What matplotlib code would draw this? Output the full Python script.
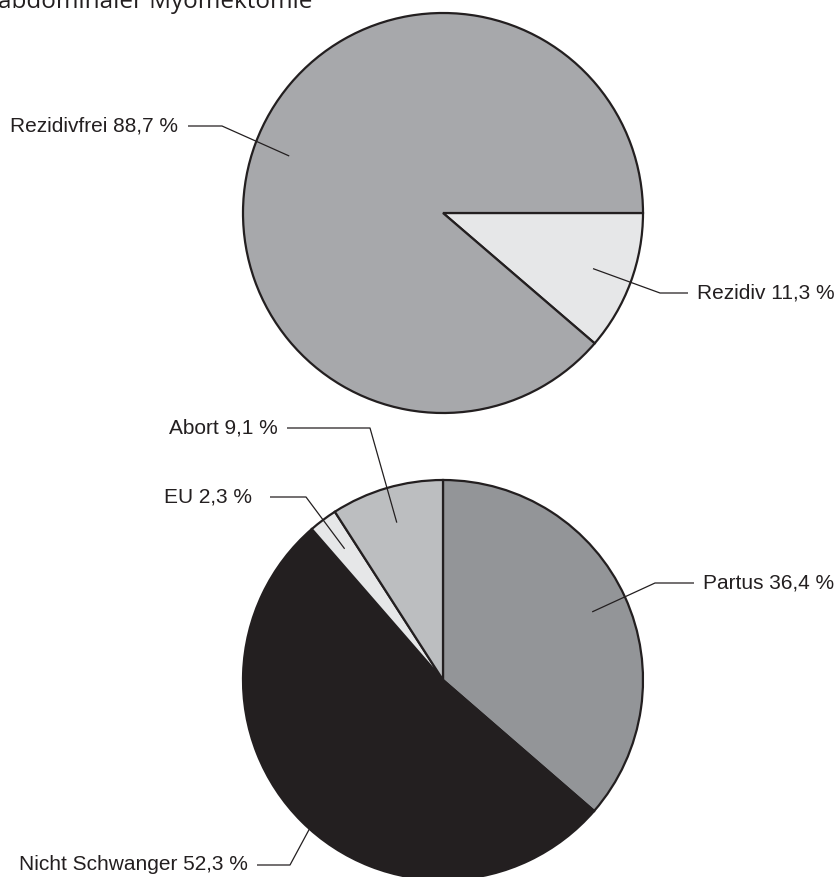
import matplotlib
matplotlib.use("Agg")
import matplotlib.pyplot as plt
import numpy as np

plt.rcParams['font.family'] = ['Liberation Sans', 'DejaVu Sans']

# Data
top_labels = ["Rezidiv", "Rezidivfrei"]
top_values = [11.3, 88.7]
top_colors = ["#e6e7e8", "#a7a8ab"]

bot_labels = ["Partus", "Nicht Schwanger", "EU", "Abort"]
bot_values = [36.4, 52.3, 2.3, 9.1]
bot_colors = ["#939598", "#231f20", "#e6e7e8", "#bcbec0"]

title_text = "abdominaler Myomektomie"

W, H = 837, 877
fig = plt.figure(figsize=(W / 100, H / 100), dpi=100)
ax = fig.add_axes([0, 0, 1, 1])

R = 200
c_top = (443, H - 213)
c_bot = (443, H - 680)

wp = dict(edgecolor="#231f20", linewidth=1.6)
w_top, _ = ax.pie(top_values, colors=top_colors, startangle=0, counterclock=False,
                  center=c_top, radius=R, wedgeprops=wp, frame=True)
w_bot, _ = ax.pie(bot_values, colors=bot_colors, startangle=90, counterclock=False,
                  center=c_bot, radius=R, wedgeprops=wp, frame=True)

ax.set_xlim(0, W)
ax.set_ylim(0, H)
ax.set_aspect("equal")
ax.axis("off")


def fmt(label, v):
    return f"{label} {v:.1f}".replace(".", ",") + " %"


def leader(wedge, center, r_frac, elbow, hend):
    mid = np.deg2rad((wedge.theta1 + wedge.theta2) / 2)
    ax_ = center[0] + r_frac * R * np.cos(mid)
    ay_ = center[1] + r_frac * R * np.sin(mid)
    ex, ey = elbow[0], H - elbow[1]
    ax.plot([ax_, ex, hend], [ay_, ey, ey], color="#231f20", lw=0.9,
            solid_capstyle="butt", zorder=5)


# wedge, center, r_frac, elbow(px), horizontal end x, text x, ha, text
specs = [
    (w_top[1], c_top, 0.82, (222, 126), 188, 178, "right", fmt(top_labels[1], top_values[1])),
    (w_top[0], c_top, 0.80, (660, 293), 688, 697, "left", fmt(top_labels[0], top_values[0])),
    (w_bot[3], c_bot, 0.82, (370, 428), 287, 278, "right", fmt(bot_labels[3], bot_values[3])),
    (w_bot[2], c_bot, 0.82, (306, 497), 270, 252, "right", fmt(bot_labels[2], bot_values[2])),
    (w_bot[0], c_bot, 0.82, (655, 583), 694, 703, "left", fmt(bot_labels[0], bot_values[0])),
    (w_bot[1], c_bot, 0.82, (290, 865), 257, 248, "right", fmt(bot_labels[1], bot_values[1])),
]
for wedge, center, rf, elbow, hend, tx, ha, txt in specs:
    leader(wedge, center, rf, elbow, hend)
    ax.text(tx, H - elbow[1], txt, ha=ha, va="center", fontsize=15, color="#231f20")

ax.text(-2, H - 8, title_text, ha="left", va="baseline", fontsize=17.5,
        color="#231f20", family=["Open Sans", "DejaVu Sans"])

fig.savefig("out.png", dpi=100)
